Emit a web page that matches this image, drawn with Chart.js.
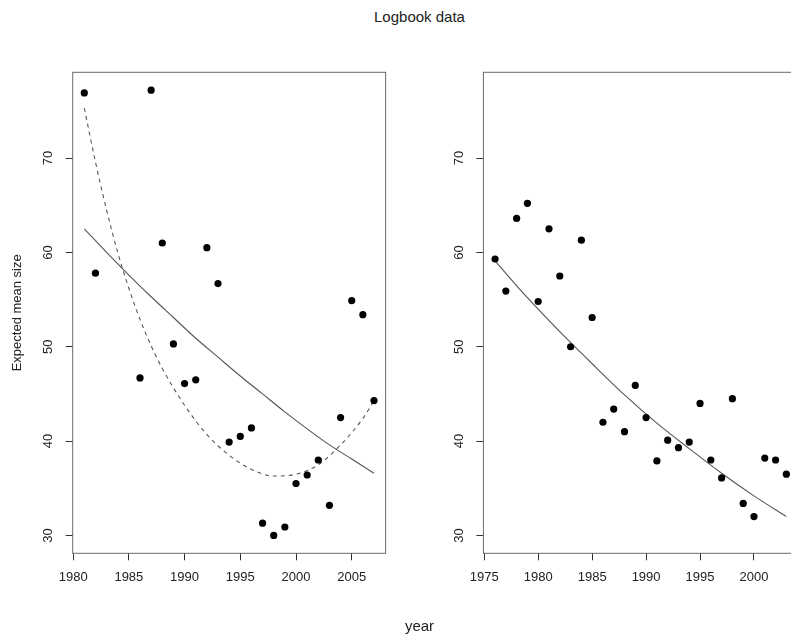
<!DOCTYPE html>
<html>
<head>
<meta charset="utf-8">
<script src="https://cdn.jsdelivr.net/npm/chart.js@4.4.1/dist/chart.umd.min.js"></script>
<style>
  html, body { margin: 0; padding: 0; background: #fff; overflow: hidden; width: 791px; height: 639px; }
  .panel { position: absolute; top: 0; }
  .label { position: absolute; left: 0; width: 839px; text-align: center;
           font: 15px 'Liberation Sans', Arial, sans-serif; line-height: 17px; color: #222; }
</style>
</head>
<body>
<div class="label" style="top:8px">Logbook data</div>
<canvas id="leftChart"  class="panel" style="left:0"     width="400" height="639"></canvas>
<canvas id="rightChart" class="panel" style="left:400px" width="440" height="639"></canvas>
<div class="label" style="top:617px">year</div>

<script>
/* ── Data ──────────────────────────────────────────────────────────────── */

// Left panel: observed expected mean size per year
const LEFT_YEARS = [1981, 1982, 1986, 1987, 1988, 1989, 1990, 1991, 1992, 1993, 1994, 1995,
                    1996, 1997, 1998, 1999, 2000, 2001, 2002, 2003, 2004, 2005, 2006, 2007];
const LEFT_SIZES = [76.9, 57.8, 46.7, 77.2, 61.0, 50.3, 46.1, 46.5, 60.5, 56.7, 39.9, 40.5,
                    41.4, 31.3, 30.0, 30.9, 35.5, 36.4, 38.0, 33.2, 42.5, 54.9, 53.4, 44.3];

// Left panel: solid fitted trend
const LEFT_FIT_YEARS = [1981, 1983, 1985, 1987, 1989, 1991, 1993, 1995, 1997, 1999, 2001, 2003, 2005, 2007];
const LEFT_FIT_SIZES = [62.5, 60.0, 57.6, 55.3, 53.1, 50.9, 48.9, 46.9, 45.0, 43.1, 41.3, 39.6, 38.1, 36.6];

// Left panel: dashed fitted trend
const LEFT_DASH_YEARS = [1981, 1982, 1983, 1984, 1985, 1986, 1987, 1988, 1990, 1992, 1994, 1996,
                         1998, 2000, 2002, 2004, 2006, 2007];
const LEFT_DASH_SIZES = [75.3, 69.6, 64.5, 60.0, 56.2, 52.9, 50.1, 47.7, 43.8, 40.7, 38.5, 37.0,
                         36.3, 36.5, 37.5, 39.6, 42.4, 44.3];

// Right panel: observed expected mean size per year
const RIGHT_YEARS = [1976, 1977, 1978, 1979, 1980, 1981, 1982, 1983, 1984, 1985, 1986, 1987, 1988, 1989,
                     1990, 1991, 1992, 1993, 1994, 1995, 1996, 1997, 1998, 1999, 2000, 2001, 2002, 2003];
const RIGHT_SIZES = [59.3, 55.9, 63.6, 65.2, 54.8, 62.5, 57.5, 50.0, 61.3, 53.1, 42.0, 43.4, 41.0, 45.9,
                     42.5, 37.9, 40.1, 39.3, 39.9, 44.0, 38.0, 36.1, 44.5, 33.4, 32.0, 38.2, 38.0, 36.5];

// Right panel: solid fitted trend
const RIGHT_FIT_YEARS = [1976, 1979, 1982, 1985, 1988, 1991, 1994, 1997, 2000, 2003];
const RIGHT_FIT_SIZES = [59.1, 55.2, 51.6, 48.2, 44.9, 41.9, 39.2, 36.6, 34.2, 32.0];

// Tick labels
const LEFT_X_TICKS  = [1980, 1985, 1990, 1995, 2000, 2005];
const RIGHT_X_TICKS = [1975, 1980, 1985, 1990, 1995, 2000];
const Y_TICKS       = [30, 40, 50, 60, 70];

/* ── Style ─────────────────────────────────────────────────────────────── */

const COLORS = {
    point: '#000',
    curve: '#555',
    box:   '#6a6a6a',
    tick:  '#333',
    text:  '#222',
};
const FONT = "'Liberation Sans', Arial, sans-serif";

Chart.defaults.font.family = FONT;
Chart.defaults.color = COLORS.text;

/* ── Helpers ───────────────────────────────────────────────────────────── */

const toXY = (xs, ys) => xs.map((x, i) => ({ x, y: ys[i] }));

// R-style frame plus rotated y tick labels and optional y axis title
const framePlugin = {
    id: 'frame',
    afterDraw(chart, args, opts) {
        const { ctx, chartArea: a, scales } = chart;
        ctx.save();
        ctx.strokeStyle = COLORS.box;
        ctx.lineWidth = 1;
        ctx.strokeRect(a.left, a.top, a.right - a.left, a.bottom - a.top);

        ctx.fillStyle = COLORS.text;
        ctx.font = `13px ${FONT}`;
        ctx.textAlign = 'center';
        ctx.textBaseline = 'middle';
        Y_TICKS.forEach(v => {
            const y = scales.y.getPixelForValue(v);
            ctx.save();
            ctx.translate(a.left - opts.tickLabelGap, y);
            ctx.rotate(-Math.PI / 2);
            ctx.fillText(String(v), 0, 0);
            ctx.restore();
        });

        if (opts.yTitle) {
            ctx.save();
            ctx.translate(opts.yTitleX, (a.top + a.bottom) / 2);
            ctx.rotate(-Math.PI / 2);
            ctx.fillText(opts.yTitle, 0, 0);
            ctx.restore();
        }
        ctx.restore();
    },
};

function makePanel(canvasId, cfg) {
    const scatter = {
        type: 'scatter',
        data: toXY(cfg.years, cfg.sizes),
        pointRadius: 3.6,
        pointHoverRadius: 3.6,
        backgroundColor: COLORS.point,
        borderWidth: 0,
        order: 0,
    };
    const curves = cfg.curves.map(c => ({
        type: 'line',
        data: toXY(c.years, c.sizes),
        borderColor: COLORS.curve,
        borderWidth: 1.1,
        borderDash: c.dash || [],
        pointRadius: 0,
        cubicInterpolationMode: 'monotone',
        fill: false,
        order: 1,
    }));

    return new Chart(document.getElementById(canvasId), {
        type: 'scatter',
        data: { datasets: [scatter, ...curves] },
        options: {
            responsive: false,
            animation: false,
            devicePixelRatio: 1,
            layout: { padding: { top: 72.3, right: cfg.rightPad, bottom: 0, left: 0 } },
            plugins: {
                legend: { display: false },
                tooltip: { enabled: false },
                frame: { tickLabelGap: 24, yTitle: cfg.yTitle, yTitleX: 17 },
            },
            scales: {
                x: {
                    type: 'linear',
                    min: cfg.xMin,
                    max: cfg.xMax,
                    afterBuildTicks: s => { s.ticks = cfg.xTicks.map(v => ({ value: v })); },
                    afterFit: s => { s.height = 639 - 553.3; },
                    grid: { drawOnChartArea: false, drawTicks: true, tickLength: 7, color: COLORS.tick },
                    border: { display: false },
                    ticks: {
                        padding: 9,
                        font: { size: 13 },
                        color: COLORS.text,
                        maxRotation: 0,
                        autoSkip: false,
                        callback: v => String(v),
                    },
                },
                y: {
                    type: 'linear',
                    min: 28.11,
                    max: 79.09,
                    afterBuildTicks: s => { s.ticks = Y_TICKS.map(v => ({ value: v })); },
                    afterFit: s => { s.width = cfg.yWidth; },
                    grid: { drawOnChartArea: false, drawTicks: true, tickLength: 7, color: COLORS.tick },
                    border: { display: false },
                    ticks: { display: false },
                },
            },
        },
        plugins: [framePlugin],
    });
}

/* ── Panels ────────────────────────────────────────────────────────────── */

makePanel('leftChart', {
    years: LEFT_YEARS,
    sizes: LEFT_SIZES,
    curves: [
        { years: LEFT_FIT_YEARS,  sizes: LEFT_FIT_SIZES },
        { years: LEFT_DASH_YEARS, sizes: LEFT_DASH_SIZES, dash: [4, 4] },
    ],
    xMin: 1979.96, xMax: 2008.04,
    xTicks: LEFT_X_TICKS,
    yWidth: 72.7,
    rightPad: 400 - 385.6,
    yTitle: 'Expected mean size',
});

makePanel('rightChart', {
    years: RIGHT_YEARS,
    sizes: RIGHT_SIZES,
    curves: [
        { years: RIGHT_FIT_YEARS, sizes: RIGHT_FIT_SIZES },
    ],
    xMin: 1974.92, xMax: 2004.08,
    xTicks: RIGHT_X_TICKS,
    yWidth: 83.4,
    rightPad: 440 - 398,
});
</script>
</body>
</html>
